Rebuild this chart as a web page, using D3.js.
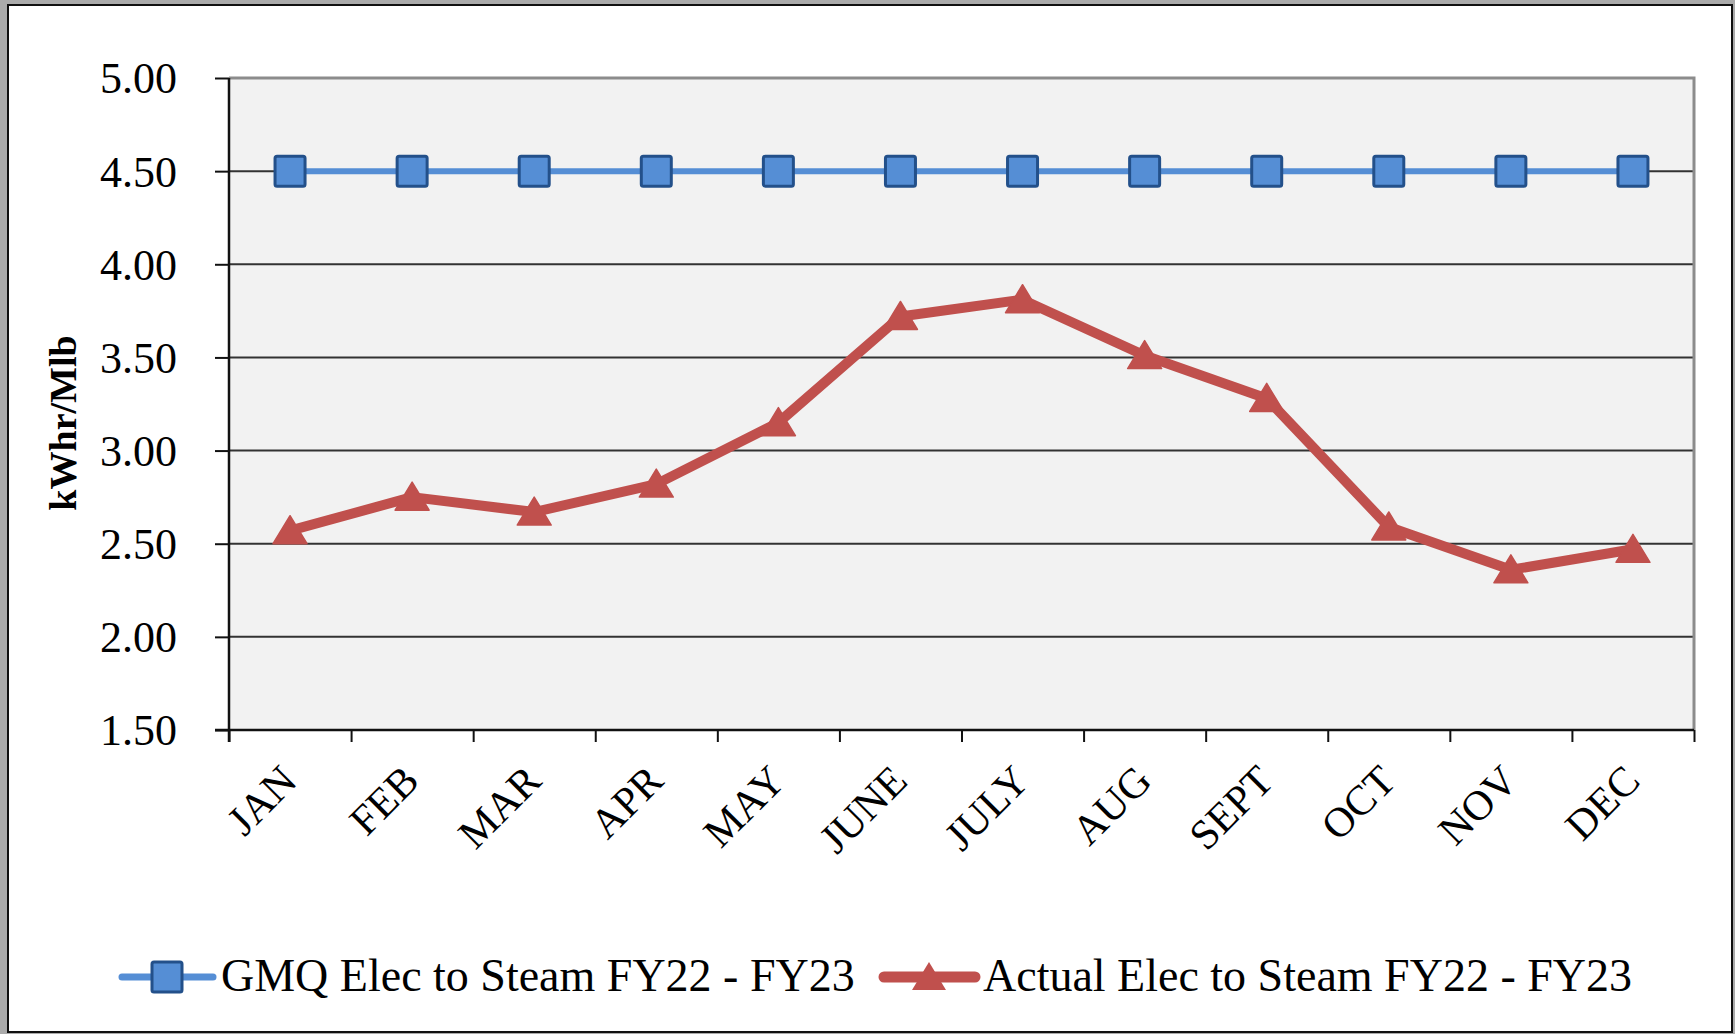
<!DOCTYPE html>
<html>
<head>
<meta charset="utf-8">
<script src="https://cdn.jsdelivr.net/npm/d3@7"></script>
<style>
  body { margin: 0; background: #ababab; }
  svg { display: block; }
  text { font-family: "Liberation Serif", "Times New Roman", serif; fill: #000; }
</style>
</head>
<body>
<svg class="linechart" width="1735" height="1034"></svg>
<script>
var months = ["JAN", "FEB", "MAR", "APR", "MAY", "JUNE", "JULY", "AUG", "SEPT", "OCT", "NOV", "DEC"];
var gmq = [4.50, 4.50, 4.50, 4.50, 4.50, 4.50, 4.50, 4.50, 4.50, 4.50, 4.50, 4.50];
var actual = [2.57, 2.75, 2.67, 2.82, 3.15, 3.72, 3.81, 3.51, 3.28, 2.59, 2.36, 2.47];
var yTicks = [1.50, 2.00, 2.50, 3.00, 3.50, 4.00, 4.50, 5.00];
var seriesNames = ["GMQ Elec to Steam FY22 - FY23", "Actual Elec to Steam FY22 - FY23"];

(function lineChartIFFE(){
    var svg = d3.select("svg.linechart"),
        margin = {top: 78, right: 41, bottom: 304, left: 229},
        width = +svg.attr("width") - margin.left - margin.right,
        height = +svg.attr("height") - margin.top - margin.bottom;

    const blue = "#558ed5", blueDark = "#23508a", red = "#c0504d";

    // white panel with frame
    svg.append("rect")
        .attr("x", 8).attr("y", 5)
        .attr("width", 1724).attr("height", 1027)
        .attr("fill", "#fff")
        .attr("stroke", "#111")
        .attr("stroke-width", 2);

    var g = svg.append("g").attr("transform", "translate(" + margin.left + "," + margin.top + ")");

    var x = d3.scaleBand().domain(months).range([0, width]);
    var xEdge = d3.scaleLinear().domain([0, months.length]).range([0, width]);
    var y = d3.scaleLinear().domain([1.5, 5]).range([height, 0]);

    // plot area
    g.append("rect")
        .attr("width", width).attr("height", height)
        .attr("fill", "#f2f2f2");

    // grid lines
    g.selectAll(".grid")
        .data(yTicks.filter(function(d) { return d > 1.5 && d < 5; }))
        .enter().append("line")
        .attr("x1", 0).attr("x2", width)
        .attr("y1", function(d) { return y(d); })
        .attr("y2", function(d) { return y(d); })
        .attr("stroke", "#333")
        .attr("stroke-width", 2);

    // top and right border
    g.append("path")
        .attr("d", "M0," + y(5) + "H" + width + "V" + height)
        .attr("fill", "none")
        .attr("stroke", "#8c8c8c")
        .attr("stroke-width", 3);

    // y axis
    var yAxis = g.append("g")
        .call(d3.axisLeft(y).tickValues(yTicks).tickSize(14).tickFormat(d3.format(".2f")));
    yAxis.select(".domain").attr("stroke", "#111").attr("stroke-width", 2.5)
        .attr("d", "M0," + (y(5)) + "V" + (height + 12));
    yAxis.selectAll(".tick line").attr("stroke", "#111").attr("stroke-width", 2);
    yAxis.selectAll(".tick text")
        .attr("x", -52)
        .attr("dy", "0.34em")
        .style("font-size", "44px")
        .style("font-family", "Liberation Serif, Times New Roman, serif")
        .attr("fill", "#000");

    // x axis
    var xAxis = g.append("g")
        .attr("transform", "translate(0," + height + ")")
        .call(d3.axisBottom(xEdge).tickValues(d3.range(months.length + 1)).tickSize(12).tickFormat(""));
    xAxis.select(".domain").attr("stroke", "#111").attr("stroke-width", 2.5)
        .attr("d", "M-14,0H" + width);
    xAxis.selectAll(".tick line").attr("stroke", "#111").attr("stroke-width", 2);

    g.append("g").selectAll("text")
        .data(months)
        .enter().append("text")
        .attr("transform", function(d) {
            return "translate(" + (x(d) + x.bandwidth() / 2 + 9) + "," + (height + 53) + ") rotate(-45)";
        })
        .style("text-anchor", "end")
        .style("font-size", "42px")
        .text(function(d) { return d; });

    // y label
    svg.append("text")
        .attr("transform", "translate(76,423) rotate(-90)")
        .style("text-anchor", "middle")
        .style("font-size", "38px")
        .style("font-weight", "bold")
        .text("kWhr/Mlb");

    var cx = function(d, i) { return x(months[i]) + x.bandwidth() / 2; };

    var line = d3.line()
        .x(function(d, i) { return cx(d, i); })
        .y(function(d) { return y(d); });

    g.append("path")
        .datum(gmq)
        .attr("fill", "none")
        .attr("stroke", blue)
        .attr("stroke-width", 6)
        .attr("d", line);

    g.selectAll(".sq")
        .data(gmq)
        .enter().append("rect")
        .attr("x", function(d, i) { return cx(d, i) - 15; })
        .attr("y", function(d) { return y(d) - 15; })
        .attr("width", 30).attr("height", 30)
        .attr("rx", 2)
        .attr("fill", blue)
        .attr("stroke", blueDark)
        .attr("stroke-width", 3);

    g.append("path")
        .datum(actual)
        .attr("fill", "none")
        .attr("stroke", red)
        .attr("stroke-width", 10)
        .attr("stroke-linejoin", "round")
        .attr("d", line);

    var tri = "M0,-15L17,13L-17,13Z";
    g.selectAll(".tri")
        .data(actual)
        .enter().append("path")
        .attr("transform", function(d, i) { return "translate(" + cx(d, i) + "," + y(d) + ")"; })
        .attr("d", tri)
        .attr("fill", red)
        .attr("stroke", red)
        .attr("stroke-width", 1.5)
        .attr("stroke-linejoin", "round");

    // legend
    var leg = svg.append("g").attr("transform", "translate(0,977)");
    leg.append("line")
        .attr("x1", 122).attr("x2", 213)
        .attr("stroke", blue).attr("stroke-width", 7).attr("stroke-linecap", "round");
    leg.append("rect")
        .attr("x", 152).attr("y", -15).attr("width", 30).attr("height", 30).attr("rx", 2)
        .attr("fill", blue).attr("stroke", blueDark).attr("stroke-width", 3);
    leg.append("text")
        .attr("x", 221).attr("y", 14)
        .style("font-size", "46px")
        .text(seriesNames[0]);

    leg.append("line")
        .attr("x1", 884).attr("x2", 975)
        .attr("stroke", red).attr("stroke-width", 11).attr("stroke-linecap", "round");
    leg.append("path")
        .attr("transform", "translate(929,0)")
        .attr("d", tri)
        .attr("fill", red);
    leg.append("text")
        .attr("x", 983).attr("y", 14)
        .style("font-size", "46px")
        .text(seriesNames[1]);
})();
</script>
</body>
</html>
